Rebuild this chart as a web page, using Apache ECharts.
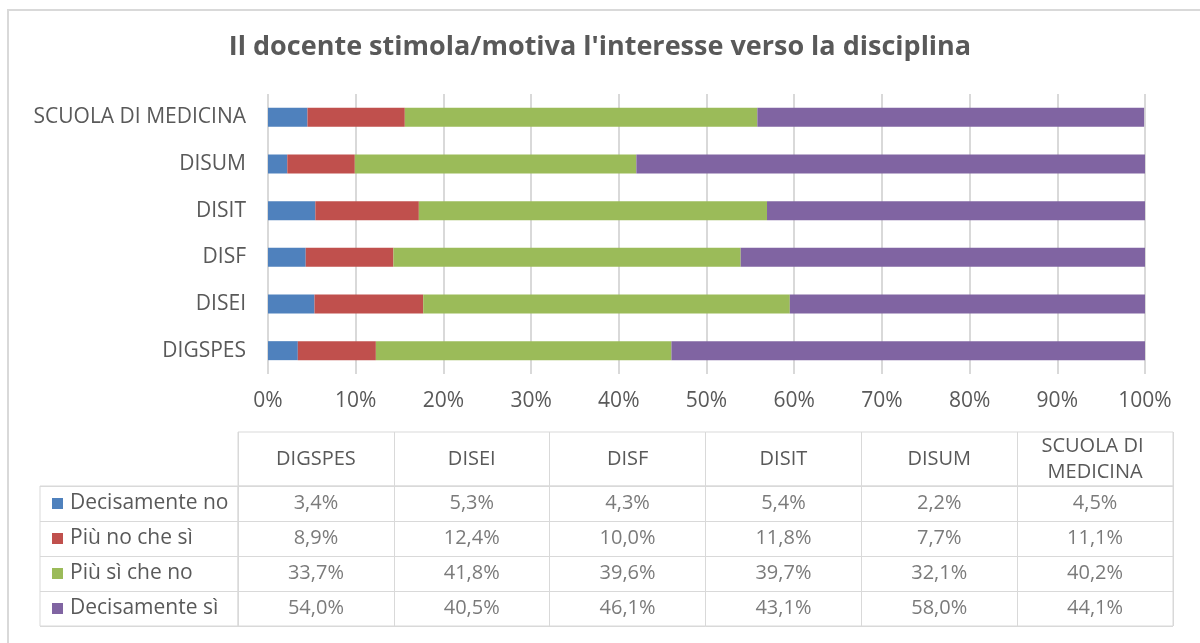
<!DOCTYPE html>
<html>
<head>
<meta charset="UTF-8">
<title>Il docente stimola/motiva l'interesse verso la disciplina</title>
<script src="https://cdn.jsdelivr.net/npm/echarts@6/dist/echarts.min.js"></script>
<style>
html, body { margin: 0; padding: 0; background: #fff; }
#main { width: 1200px; height: 643px; }
</style>
</head>
<body>
<div id="main"></div>
<script>
// dati
var departments = ['DIGSPES', 'DISEI', 'DISF', 'DISIT', 'DISUM', 'SCUOLA DI MEDICINA'];
var seriesNames = ['Decisamente no', 'Più no che sì', 'Più sì che no', 'Decisamente sì'];
var decisamenteNo = [3.4, 5.3, 4.3, 5.4, 2.2, 4.5];
var piuNoCheSi = [8.9, 12.4, 10.0, 11.8, 7.7, 11.1];
var piuSiCheNo = [33.7, 41.8, 39.6, 39.7, 32.1, 40.2];
var decisamenteSi = [54.0, 40.5, 46.1, 43.1, 58.0, 44.1];
var colors = ['#4F81BD', '#C0504D', '#9BBB59', '#8064A2'];

var values = [decisamenteNo, piuNoCheSi, piuSiCheNo, decisamenteSi];
var font = 'Open Sans';
var txt = '#595959';
var line = '#D9D9D9';

function fmt(v) {
	return v.toFixed(1).replace('.', ',') + '%';
}

// barre impilate
var barSeries = seriesNames.map(function (name, i) {
	return {
		name: name,
		type: 'bar',
		stack: 'tot',
		barWidth: 19,
		xAxisIndex: 0,
		yAxisIndex: 0,
		itemStyle: { color: colors[i] },
		data: values[i]
	};
});

// celle della tabella
var cells = [];
for (var s = 0; s < values.length; s++) {
	for (var d = 0; d < departments.length; d++) {
		cells.push([d, s, values[s][d]]);
	}
}

// legenda nella tabella
var rich = {};
colors.forEach(function (c, i) {
	rich['sq' + i] = { width: 11, height: 11, backgroundColor: c };
});
rich.t = { fontFamily: font, fontSize: 21, color: txt, padding: [0, 0, 0, 7] };

var myChart = echarts.init(document.getElementById('main'));
var option = {
	animation: false,
	textStyle: { fontFamily: font },
	title: {
		text: "Il docente stimola/motiva l'interesse verso la disciplina",
		left: 'center',
		top: 29,
		textStyle: { fontFamily: font, fontSize: 27, fontWeight: 'bold', color: txt }
	},
	graphic: [{
		type: 'rect',
		shape: { x: 8, y: 10, width: 1300, height: 700 },
		style: { fill: 'none', stroke: line, lineWidth: 2 },
		silent: true
	}],
	grid: [
		{ left: 268, right: 55, top: 94, bottom: 269 },
		{ left: 238, right: 27, top: 432, height: 54, show: true, borderColor: line, borderWidth: 1, backgroundColor: 'transparent' },
		{ left: 40, width: 198, top: 486, height: 140, show: true, borderColor: line, borderWidth: 1, backgroundColor: 'transparent' },
		{ left: 238, right: 27, top: 486, height: 140, show: true, borderColor: line, borderWidth: 1, backgroundColor: 'transparent' }
	],
	xAxis: [{
		gridIndex: 0,
		type: 'value',
		min: 0,
		max: 100,
		interval: 10,
		axisLine: { show: false },
		axisTick: { show: false },
		axisLabel: { formatter: '{value}%', fontFamily: font, fontSize: 21, color: txt, margin: 17 },
		splitLine: { lineStyle: { color: line, width: 2 } }
	}, {
		gridIndex: 1,
		type: 'category',
		position: 'top',
		data: departments,
		axisLine: { show: false },
		axisTick: { show: false },
		axisLabel: {
			inside: true, margin: 27, verticalAlign: 'middle', interval: 0,
			fontFamily: font, fontSize: 20, color: txt, lineHeight: 26,
			width: 140, overflow: 'break', align: 'center'
		},
		splitLine: { show: true, interval: 0, lineStyle: { color: line } }
	}, {
		gridIndex: 2,
		type: 'value',
		show: false
	}, {
		gridIndex: 3,
		type: 'category',
		data: departments,
		axisLine: { show: false },
		axisTick: { show: false },
		axisLabel: { show: false },
		splitLine: { show: true, interval: 0, lineStyle: { color: line } }
	}],
	yAxis: [{
		gridIndex: 0,
		type: 'category',
		data: departments,
		axisLine: { show: false },
		axisTick: { show: false },
		axisLabel: { fontFamily: font, fontSize: 21, color: txt, margin: 22 }
	}, {
		gridIndex: 1,
		type: 'value',
		show: false
	}, {
		gridIndex: 2,
		type: 'category',
		inverse: true,
		data: seriesNames,
		axisLine: { show: false },
		axisTick: { show: false },
		axisLabel: {
			inside: true, margin: 12, align: 'left', interval: 0,
			formatter: function (v, i) { return '{sq' + i + '|}{t|' + v + '}'; },
			rich: rich
		},
		splitLine: { show: true, interval: 0, lineStyle: { color: line } }
	}, {
		gridIndex: 3,
		type: 'category',
		inverse: true,
		data: seriesNames,
		axisLine: { show: false },
		axisTick: { show: false },
		axisLabel: { show: false },
		splitLine: { show: true, interval: 0, lineStyle: { color: line } }
	}],
	series: barSeries.concat([{
		type: 'scatter',
		xAxisIndex: 3,
		yAxisIndex: 3,
		symbolSize: 1,
		itemStyle: { color: 'rgba(0,0,0,0)' },
		label: {
			show: true,
			position: 'inside',
			fontFamily: font,
			fontSize: 20,
			color: txt,
			formatter: function (p) { return fmt(p.value[2]); }
		},
		data: cells
	}])
};
myChart.setOption(option);
</script>
</body>
</html>
